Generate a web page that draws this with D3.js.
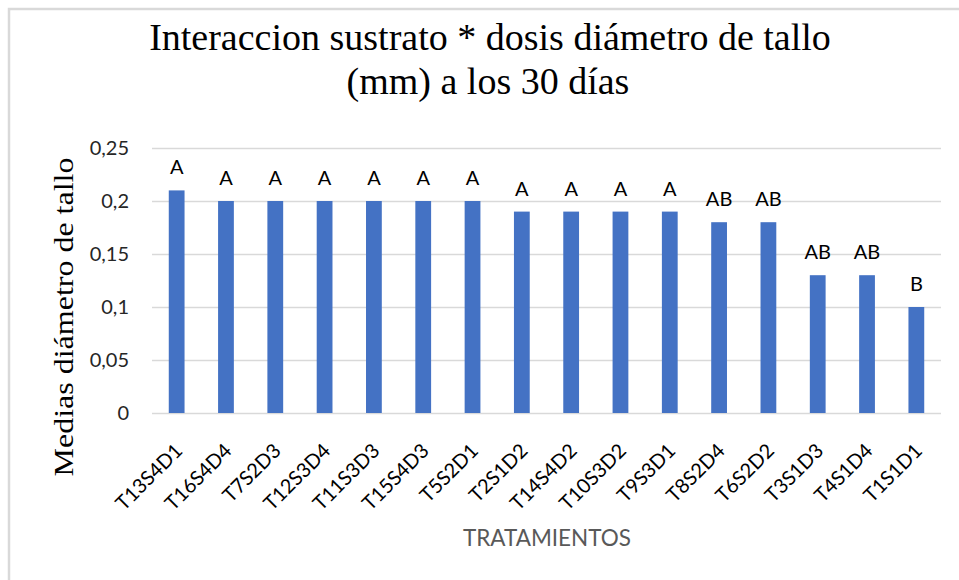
<!DOCTYPE html>
<html>
<head>
<meta charset="utf-8">
<script src="https://cdn.jsdelivr.net/npm/d3@7"></script>
<style>
  body { margin: 0; background: #fff; }
</style>
</head>
<body>
<script>
// Datos del gráfico
const tratamientos = ["T13S4D1", "T16S4D4", "T7S2D3", "T12S3D4", "T11S3D3", "T15S4D3", "T5S2D1", "T2S1D2",
  "T14S4D2", "T10S3D2", "T9S3D1", "T8S2D4", "T6S2D2", "T3S1D3", "T4S1D4", "T1S1D1"];
const medias = [0.21, 0.2, 0.2, 0.2, 0.2, 0.2, 0.2, 0.19, 0.19, 0.19, 0.19, 0.18, 0.18, 0.13, 0.13, 0.1];
const letras = ["A", "A", "A", "A", "A", "A", "A", "A", "A", "A", "A", "AB", "AB", "AB", "AB", "B"];
const yTicks = [0, 0.05, 0.1, 0.15, 0.2, 0.25];

const width = 959;
const height = 580;
const plot = { left: 152, right: 941, top: 148, bottom: 413 };
const sans = "Lato, 'Open Sans', sans-serif";
const serif = "'Liberation Serif', 'Times New Roman', serif";

const svg = d3.select("body").append("svg")
  .attr("width", width)
  .attr("height", height);

// borde del área del gráfico
svg.append("rect")
  .attr("x", 9).attr("y", 9)
  .attr("width", width + 10).attr("height", height + 10)
  .attr("fill", "none")
  .attr("stroke", "#d9d9d9")
  .attr("stroke-width", 2.5);

const x = d3.scaleBand()
  .domain(tratamientos)
  .range([plot.left, plot.right])
  .paddingInner(0.68)
  .paddingOuter(0.34);

const y = d3.scaleLinear()
  .domain([0, 0.25])
  .range([plot.bottom, plot.top]);

const fmt = d => String(d).replace(".", ",");

// eje Y con líneas de cuadrícula
const yAxis = d3.axisLeft(y)
  .tickValues(yTicks)
  .tickSize(-(plot.right - plot.left))
  .tickPadding(23)
  .tickFormat(fmt);

const gy = svg.append("g")
  .attr("transform", `translate(${plot.left},0)`)
  .call(yAxis);
gy.select(".domain").remove();
gy.selectAll(".tick line").attr("stroke", "#d9d9d9").attr("stroke-width", 1.5);
gy.selectAll(".tick text")
  .attr("font-family", sans)
  .attr("font-size", "20px")
  .attr("fill", "#262626");

// barras
svg.append("g")
  .selectAll("rect")
  .data(medias)
  .join("rect")
  .attr("x", (d, i) => x(tratamientos[i]))
  .attr("y", d => y(d))
  .attr("width", x.bandwidth())
  .attr("height", d => y(0) - y(d))
  .attr("fill", "#4472c4");

// letras de significancia
svg.append("g")
  .selectAll("text")
  .data(medias)
  .join("text")
  .attr("x", (d, i) => x(tratamientos[i]) + x.bandwidth() / 2)
  .attr("y", d => y(d) - 16)
  .attr("text-anchor", "middle")
  .attr("font-family", sans)
  .attr("font-size", "20px")
  .attr("fill", "#000")
  .text((d, i) => letras[i]);

// eje X
const xAxis = d3.axisBottom(x).tickSize(0).tickPadding(0);
const gx = svg.append("g")
  .attr("transform", `translate(0,${plot.bottom})`)
  .call(xAxis);
gx.select(".domain").remove();
gx.selectAll(".tick text")
  .attr("font-family", sans)
  .attr("font-size", "20px")
  .attr("fill", "#000")
  .attr("text-anchor", "end")
  .attr("y", 0)
  .attr("dy", null)
  .attr("transform", "translate(7,39) rotate(-45)");

// títulos
svg.append("text")
  .attr("x", 490).attr("y", 50)
  .attr("text-anchor", "middle")
  .attr("font-family", serif)
  .attr("font-size", "38px")
  .text("Interaccion sustrato * dosis diámetro de tallo");

svg.append("text")
  .attr("x", 488).attr("y", 94)
  .attr("text-anchor", "middle")
  .attr("font-family", serif)
  .attr("font-size", "38px")
  .text("(mm) a los 30 días");

svg.append("text")
  .attr("transform", "translate(73,317) rotate(-90) scale(1,0.87)")
  .attr("text-anchor", "middle")
  .attr("font-family", serif)
  .attr("font-size", "32px")
  .text("Medias diámetro de tallo");

svg.append("text")
  .attr("x", 547).attr("y", 546)
  .attr("text-anchor", "middle")
  .attr("font-family", sans)
  .attr("font-size", "22.5px")
  .attr("fill", "#595959")
  .text("TRATAMIENTOS");
</script>
</body>
</html>
